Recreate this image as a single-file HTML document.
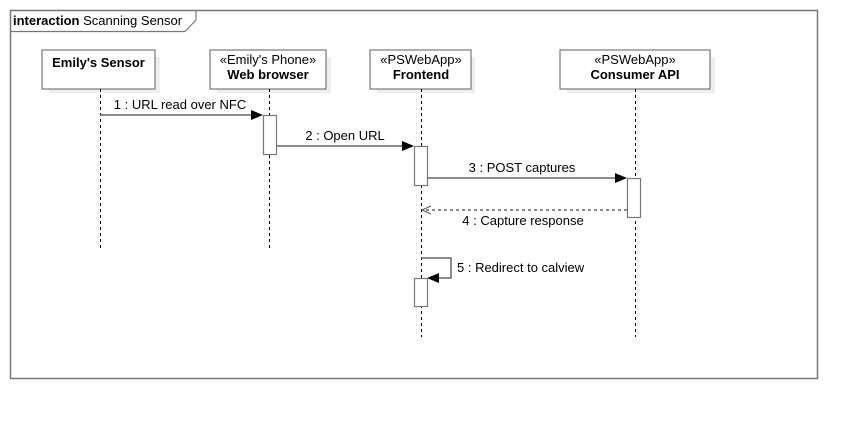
<!DOCTYPE html>
<html><head><style>body{margin:0;background:#fff}</style></head><body>
<svg width="858" height="418" xmlns="http://www.w3.org/2000/svg" font-family="Liberation Sans, sans-serif" font-size="13">
<rect x="10.5" y="10.5" width="807" height="368" fill="none" stroke="#777" stroke-width="1.5"/>
<path d="M10.5 31.5 H185 L196 20 V10.5" fill="none" stroke="#777" stroke-width="1.2"/>
<text x="13" y="25" fill="#000"><tspan font-weight="bold">interaction</tspan> Scanning Sensor</text>
<g fill="#eee"><rect x="49" y="57" width="111" height="36"/><rect x="217" y="57" width="114" height="36"/><rect x="377" y="57" width="98" height="36"/><rect x="567" y="57" width="148" height="36"/></g>
<g fill="#fff" stroke="#777" stroke-width="1.2">
<rect x="42" y="50" width="113" height="39"/><rect x="210" y="50" width="116" height="39"/><rect x="370" y="50" width="101" height="39"/><rect x="560" y="50" width="150" height="39"/></g>
<g text-anchor="middle">
<text x="98.5" y="67" font-weight="bold">Emily's Sensor</text>
<text x="268" y="64">«Emily's Phone»</text><text x="268" y="79" font-weight="bold">Web browser</text>
<text x="421" y="64">«PSWebApp»</text><text x="421" y="79" font-weight="bold">Frontend</text>
<text x="635" y="64">«PSWebApp»</text><text x="635" y="79" font-weight="bold">Consumer API</text></g>
<g stroke="#000" stroke-dasharray="3,3" stroke-width="1">
<line x1="100.5" y1="89" x2="100.5" y2="248"/><line x1="269.5" y1="89" x2="269.5" y2="248"/>
<line x1="421.5" y1="89" x2="421.5" y2="337"/><line x1="635.5" y1="89" x2="635.5" y2="337"/></g>
<g stroke="#666" stroke-width="1.5">
<line x1="100" y1="115" x2="255" y2="115"/><line x1="276" y1="146" x2="406" y2="146"/>
<line x1="427" y1="178" x2="619" y2="178"/>
<line x1="627" y1="210" x2="423" y2="210" stroke-dasharray="3,3"/>
<polyline points="421,258 451,258 451,278 436,278" fill="none"/></g>
<g fill="#000">
<polygon points="263,115 251,110 251,120"/><polygon points="414,146 402,141 402,151"/>
<polygon points="627,178 615,173 615,183"/><polygon points="427,278 439,273 439,283"/></g>
<polyline points="431,206 422,210 431,214" fill="none" stroke="#555"/>
<g fill="#fff" stroke="#777" stroke-width="1.2">
<rect x="263.5" y="115.5" width="13" height="39"/><rect x="414.5" y="146.5" width="13" height="39"/>
<rect x="627.5" y="178.5" width="13" height="39"/><rect x="414.5" y="278.5" width="13" height="28"/></g>
<g fill="#000" text-anchor="middle">
<text x="180" y="109">1 : URL read over NFC</text><text x="345" y="140">2 : Open URL</text>
<text x="522" y="172">3 : POST captures</text><text x="523" y="225">4 : Capture response</text></g>
<text x="457" y="272">5 : Redirect to calview</text>
</svg>
</body></html>
